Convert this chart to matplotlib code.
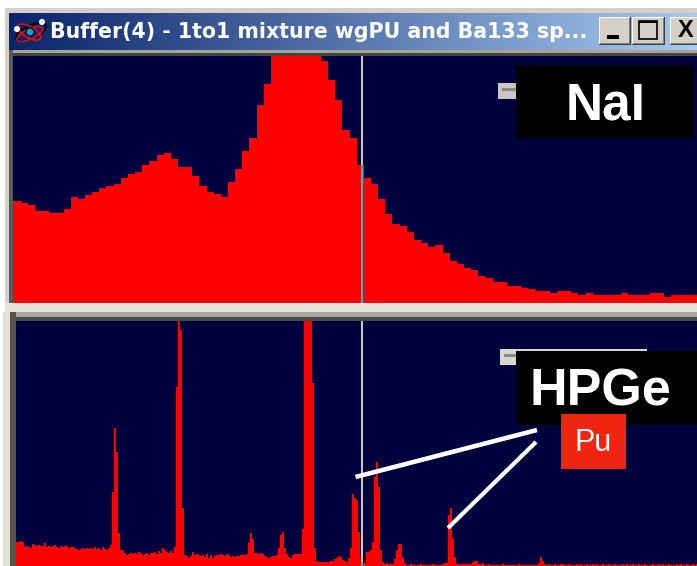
import numpy as np
import matplotlib
matplotlib.use('Agg')
import matplotlib.pyplot as plt
from matplotlib.patches import Rectangle, Ellipse, Circle

# Spectrum values (counts are in arbitrary screen units)
nai_counts = [
    102, 100, 98, 92, 92, 90, 90, 94, 106, 104, 108, 111, 115, 117, 119, 125,
    129, 131, 138, 142, 148, 150, 144, 136, 136, 127, 117, 111, 109, 106, 121, 134,
    152, 165, 198, 219, 250, 250, 250, 250, 250, 250, 250, 242, 223, 203, 173, 165,
    138, 125, 119, 104, 89, 79, 77, 71, 63, 60, 56, 58, 50, 42, 39, 35,
    33, 27, 25, 21, 21, 17, 17, 15, 14, 12, 12, 10, 12, 12, 10, 8,
    10, 8, 8, 8, 8, 10, 8, 8, 8, 10, 10, 6, 8, 8, 8, 8,
]

hpge_counts = [
    24, 24, 25, 24, 19, 20, 19, 18, 22, 21, 20, 21, 20, 20, 23, 19, 20, 19, 20,
    21, 19, 18, 20, 19, 20, 20, 18, 19, 19, 18,
    17, 16, 17, 18, 17, 18, 17, 18, 17, 19, 17, 18, 16, 19, 17, 16, 18,
    21, 74, 138, 114, 33, 16, 16,
    13, 11, 12, 13, 12, 13, 12, 14, 13, 11, 12, 13, 11, 13, 13, 14, 12, 15, 13,
    18, 16, 14, 13, 15, 13, 19, 179, 250, 236, 58, 11, 10,
    8, 10, 14, 11, 12, 11, 10, 11, 9, 12, 8, 11, 8, 10, 11, 11, 12, 11, 10, 12,
    11, 9, 10, 9, 10, 10, 11, 11, 11, 12, 23, 33, 27, 13,
    13, 12, 13, 12, 10, 9, 8, 9, 10, 10, 11, 18, 31, 34, 18, 12, 9, 8,
    11, 12, 12, 12, 12, 37, 250, 250, 250, 250, 183, 18,
    5, 4, 4, 4, 4, 4, 4, 5, 5, 7, 8, 10, 9, 6, 5, 4, 8, 18, 72, 68, 66, 34, 9, 3, 3,
    14, 14, 16, 24, 89, 104, 79, 16, 4, 2, 3, 2, 2, 2, 7, 16, 22, 22, 9, 3,
    1, 1, 2, 1, 1, 1, 1, 2, 1, 1, 1, 1, 1, 2, 1, 1, 1, 1,
    2, 3, 3, 51, 58, 28, 9, 2, 2, 2, 2, 2, 2, 2, 2, 4, 5, 5, 2, 2, 3,
    1, 1, 2, 1, 1, 1, 1, 1, 1, 2, 1, 1, 1, 1, 1, 1, 1, 2, 1, 1, 1, 1, 1, 1, 1, 1, 1,
    3, 9, 5, 2,
    1, 2, 1, 1, 2, 1, 1, 2, 2, 1, 1, 2, 1, 1, 1, 2, 1, 2, 1, 1, 2, 1, 1, 2, 1, 2, 1, 1,
    2, 1, 1, 2, 1, 1, 2, 1, 1, 1, 2, 1, 2, 1, 1, 2, 1, 1, 2, 1, 1, 2, 1, 1, 1, 2, 1, 1,
    2, 1, 2, 1, 1, 2, 1, 1, 1, 2, 1, 2, 1, 1, 2, 1, 1, 2, 1, 2, 1,
]

title = 'Buffer(4) - 1to1 mixture wgPU and Ba133 sp...'
W, H = 697, 566
NAVY = '#00003F'
GREY = '#D4D0C8'


def pixel_axes(left, top, right, bottom):
    # axes placed with reference pixel positions
    return fig.add_axes([left / W, 1 - bottom / H, (right - left) / W, (bottom - top) / H])


def rect(ax, x0, y0, x1, y1, color, z=2):
    ax.add_patch(Rectangle((x0, y0), x1 - x0, y1 - y0, facecolor=color, edgecolor='none', zorder=z))


def button(ax, x0, y0, x1, y1):
    rect(ax, x0, y0, x1, y1, '#404040')
    rect(ax, x0, y0, x1 - 1, y1 - 1, '#FFFFFF')
    rect(ax, x0 + 1, y0 + 1, x1 - 1, y1 - 1, '#808080')
    rect(ax, x0 + 1, y0 + 1, x1 - 2, y1 - 2, GREY)


fig = plt.figure(figsize=(W / 100, H / 100), dpi=100, facecolor='white')

# Window chrome underneath
bg = pixel_axes(0, 0, W, H)
bg.set_xlim(0, W)
bg.set_ylim(H, 0)
bg.axis('off')
rect(bg, 5, 8, W, 312, GREY)
rect(bg, 5, 303, W, 312, '#E6E3DA')
rect(bg, 9, 50, W, 53, '#A8A498')
rect(bg, 9, 53, W, 56, '#45453F')
rect(bg, 9, 50, 13, 303, '#5A5A55')
rect(bg, 3, 312, W, 317, '#A8A59C')
rect(bg, 3, 317, W, 321, '#484844')
rect(bg, 3, 312, 10, H, '#E4E1D8')
rect(bg, 10, 312, 15.5, H, '#55554F')

grad = np.linspace(0, 1, 256)[None, :, None]
grad = (1 - grad) * np.array([10, 36, 106]) / 255 + grad * np.array([166, 202, 240]) / 255
bg.imshow(grad, extent=(9, W, 50, 13), aspect='auto', zorder=3)
bg.set_xlim(0, W)
bg.set_ylim(H, 0)
bg.text(50, 32, title, color='white', fontsize=14.8, fontweight='bold',
        family='DejaVu Sans', va='center', ha='left', zorder=4)

# Top spectrum (NaI)
ax1 = pixel_axes(13.5, 56, W, 303)
edges1 = np.arange(len(nai_counts) + 1)
ax1.stairs(nai_counts, edges1, fill=True, color='#FF0000', linewidth=0, antialiased=False)
ax1.set_xlim(0, 683.5 / 7.15)
ax1.set_ylim(0, 247)
ax1.axis('off')
ax1.add_patch(Rectangle((0, 0), 1, 1, transform=ax1.transAxes, facecolor=NAVY, zorder=0))

# Bottom spectrum (HPGe)
ax2 = pixel_axes(15.5, 321, W, H)
edges2 = np.arange(len(hpge_counts) + 1)
ax2.stairs(hpge_counts, edges2, fill=True, color='#FF0000', linewidth=0, antialiased=False)
ax2.set_xlim(0, 681.5 / 2)
ax2.set_ylim(0, 245)
ax2.axis('off')
ax2.add_patch(Rectangle((0, 0), 1, 1, transform=ax2.transAxes, facecolor=NAVY, zorder=0))

# Annotations on top
over = pixel_axes(0, 0, W, H)
over.set_xlim(0, W)
over.set_ylim(H, 0)
over.axis('off')

# cursor lines
rect(over, 361, 56, 363, 303, '#C8C8B4')
rect(over, 361, 165, 363, 303, '#20C0C8')
rect(over, 361, 321, 363, H, '#C8C8B4')
rect(over, 361, 562, 363, H, '#20C0C8')

# small slider bars
rect(over, 498, 83, 518, 99, '#C8C8C0')
rect(over, 502, 88, 518, 91, '#8A8A84')
rect(over, 500, 349, 647, 365, '#D8D8D0')
rect(over, 504, 354, 520, 357, '#8A8A84')

# window buttons
button(over, 599, 17, 631, 45)
button(over, 632, 17, 665, 45)
button(over, 670, 17, W + 3, 45)
rect(over, 607, 35, 619, 39, 'black', z=4)
over.add_patch(Rectangle((639, 21), 18, 18, facecolor='none', edgecolor='black', linewidth=1.2, zorder=4))
rect(over, 639, 21, 657, 23, 'black', z=4)
over.text(686, 30.5, 'X', color='black', fontsize=17, fontweight='bold', family='Liberation Sans',
          ha='center', va='center', zorder=4)

# title bar icon
over.add_patch(Ellipse((31, 32), 32, 13, angle=-25, facecolor='none', edgecolor='black', linewidth=1.5, zorder=3))
over.add_patch(Ellipse((30, 34), 28, 10, angle=-25, facecolor='none', edgecolor='#E01010', linewidth=1.2, zorder=4))
over.add_patch(Ellipse((29, 32), 26, 11, angle=30, facecolor='none', edgecolor='#E01010', linewidth=1.2, zorder=4))
over.add_patch(Circle((30, 32), 4, facecolor='#10A0E0', edgecolor='black', linewidth=0.8, zorder=5))
over.add_patch(Circle((42, 22), 3, facecolor='white', edgecolor='none', zorder=5))
over.add_patch(Circle((17, 29), 3, facecolor='white', edgecolor='none', zorder=5))

# labels
rect(over, 516, 65, 694, 139, 'black', z=5)
over.text(605.5, 106, 'NaI', color='white', fontsize=37, fontweight='bold', family='Liberation Sans',
          ha='center', va='center', zorder=6)
rect(over, 516, 351, W, 425, 'black', z=5)
over.text(600, 392, 'HPGe', color='white', fontsize=37.5, fontweight='bold', family='Liberation Sans',
          ha='center', va='center', zorder=6)
rect(over, 561, 414, 626, 469, '#EE2510', z=7)
over.text(593, 443, 'Pu', color='white', fontsize=22, family='Liberation Sans',
          ha='center', va='center', zorder=8)
over.plot([355.5, 537], [477, 430], color='white', linewidth=3.3, solid_capstyle='butt', zorder=9)
over.plot([448, 536], [528, 442], color='white', linewidth=3, solid_capstyle='butt', zorder=9)

fig.savefig('out.png', dpi=100, facecolor='white')
